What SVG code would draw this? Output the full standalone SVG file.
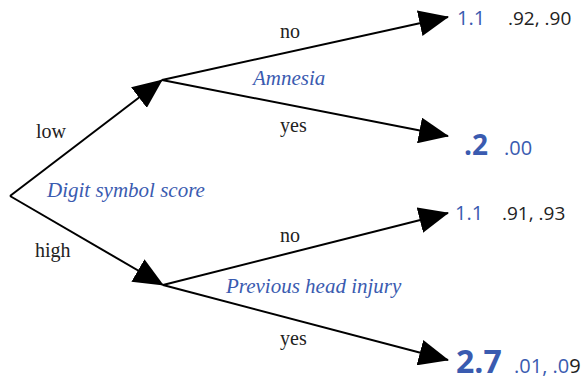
<svg xmlns="http://www.w3.org/2000/svg" width="582" height="383" viewBox="0 0 582 383">
<style>
.lbl{font-family:"Liberation Serif",serif;font-size:20px;fill:#222}
.var{font-family:"Liberation Serif",serif;font-style:italic;font-size:21px;fill:#3a5bb0}
.num{font-family:"Open Sans",sans-serif;font-size:20px;fill:#3a5bb0}
.p{font-family:"Open Sans",sans-serif;font-size:19px;fill:#222}
.big{font-family:"Open Sans",sans-serif;font-weight:bold;fill:#3a5bb0}
.edge{stroke:#000;stroke-width:2;fill:none;marker-end:url(#arr)}
</style>
<defs>
<marker id="arr" markerUnits="userSpaceOnUse" markerWidth="30" markerHeight="26" refX="29" refY="13" orient="auto">
<path d="M0,0 L30,13 L0,26 z" fill="#000"/>
</marker>
</defs>
<rect width="582" height="383" fill="#fff"/>
<g id="connectors">
<path class="edge" d="M10,196 L162,80"/>
<path class="edge" d="M10,196 L163,285"/>
<path class="edge" d="M162,80 L448,17"/>
<path class="edge" d="M162,80 L448,136"/>
<path class="edge" d="M163,285 L448,213"/>
<path class="edge" d="M163,285 L448,360"/>
</g>
<g id="root">
<text class="var" x="47" y="197">Digit symbol score</text>
<text class="lbl" x="36" y="138">low</text>
<text class="lbl" x="35" y="257">high</text>
</g>
<g id="amnesia">
<text class="var" x="253" y="85" font-size="22">Amnesia</text>
<text class="lbl" x="280" y="38">no</text>
<text class="lbl" x="280" y="132">yes</text>
</g>
<g id="headinjury">
<text class="var" x="226" y="293">Previous head injury</text>
<text class="lbl" x="280" y="242">no</text>
<text class="lbl" x="280" y="345">yes</text>
</g>
<g id="leaf1">
<text class="num" x="457" y="25">1.1</text>
<text class="p" x="508" y="25">.92, .90</text>
</g>
<g id="leaf2">
<text class="big" x="464" y="155" font-size="28">.2</text>
<text class="num" x="504" y="155" font-size="18">.00</text>
</g>
<g id="leaf3">
<text class="num" x="455" y="220">1.1</text>
<text class="p" x="502" y="220">.91, .93</text>
</g>
<g id="leaf4">
<text class="big" x="456" y="373" font-size="32">2.7</text>
<text class="num" x="514" y="373" font-size="16">.01, .0<tspan fill="#222">9</tspan></text>
</g>
</svg>
